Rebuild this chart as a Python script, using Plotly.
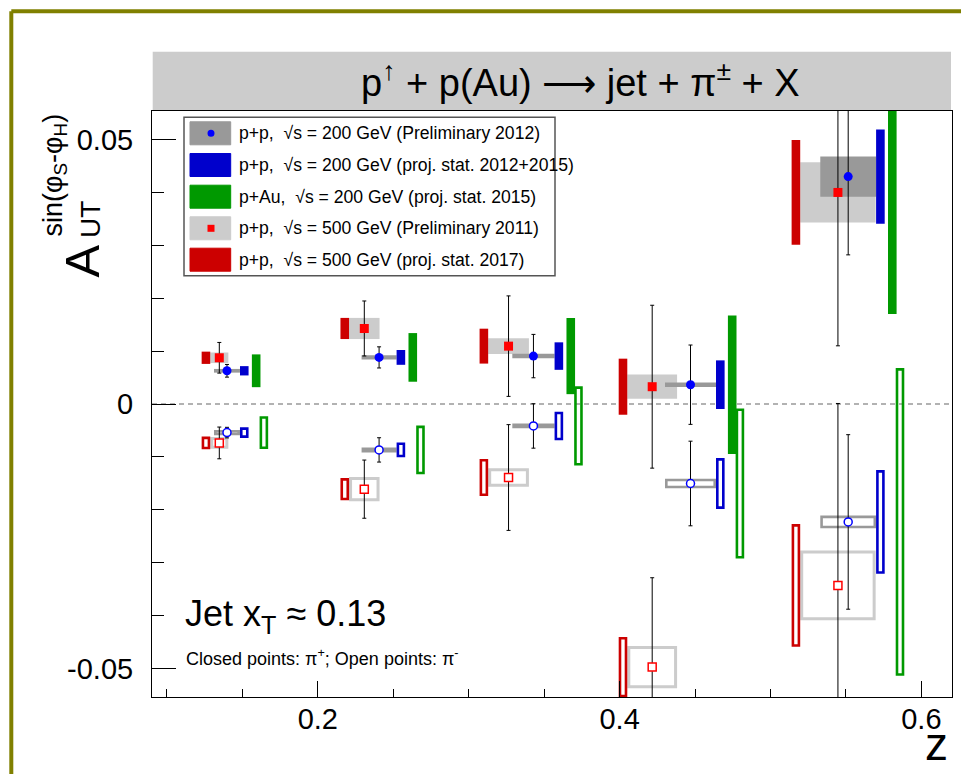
import plotly.graph_objects as go

# ---------------- data ----------------
z_200 = [0.1398, 0.2406, 0.3429, 0.4470, 0.5515]
z_500 = [0.1347, 0.2308, 0.3264, 0.4216, 0.5447]

# p+p 200 GeV preliminary 2012 (pi+ closed, pi- open)
a200_pos = [0.00628, 0.00881, 0.00906, 0.00365, 0.0430]
a200_neg = [-0.00541, -0.00868, -0.00415, -0.01503, -0.0223]
stat200_pos = [0.0012, 0.0020, 0.0041, 0.0075, 0.0148]
stat200_neg = [0.0010, 0.0023, 0.0042, 0.0080, 0.0165]
sys200_pos = [0.00035, 0.0004, 0.00043, 0.00043, 0.0038]
sys200_neg = [0.0005, 0.00047, 0.00044, 0.0009, 0.0012]
zsys200 = [0.0086, 0.0116, 0.0140, 0.0169, 0.0185]

# p+p 500 GeV preliminary 2011
a500_pos = [0.00874, 0.01428, 0.01094, 0.00327, 0.0400]
a500_neg = [-0.00736, -0.0161, -0.0139, -0.04975, -0.0343]
stat500_pos = [0.0029, 0.0052, 0.0095, 0.0154, 0.0290]
stat500_neg = [0.0030, 0.0055, 0.0100, 0.0169, 0.0344]
sys500_pos = [0.0010, 0.0020, 0.0015, 0.0023, 0.0057]
sys500_neg = [0.0011, 0.0023, 0.00176, 0.0040, 0.0066]
zsys500 = [0.0060, 0.0101, 0.0135, 0.0165, 0.0250]

# projected statistical uncertainties
proj200_pos = [0.00088, 0.0014, 0.0026, 0.0046, 0.0089]     # p+p 200 (2012+2015)
proj200_neg = [0.0010, 0.0014, 0.0027, 0.0048, 0.0098]
projAu_pos = [0.0031, 0.0046, 0.0072, 0.0131, 0.0260]       # p+Au 200 (2015)
projAu_neg = [0.0031, 0.0046, 0.0075, 0.0142, 0.0291]
proj500_pos = [0.00116, 0.0020, 0.0033, 0.0053, 0.0099]     # p+p 500 (2017)
proj500_neg = [0.0012, 0.0021, 0.0035, 0.0057, 0.0116]

legend_labels = [
    "p+p,  √s = 200 GeV (Preliminary 2012)",
    "p+p,  √s = 200 GeV (proj. stat. 2012+2015)",
    "p+Au,  √s = 200 GeV (proj. stat. 2015)",
    "p+p,  √s = 500 GeV (Preliminary 2011)",
    "p+p,  √s = 500 GeV (proj. stat. 2017)",
]
x_tickvals = [0.2, 0.4, 0.6]
x_ticktext = ["0.2", "0.4", "0.6"]
y_tickvals = [-0.05, 0.0, 0.05]
y_ticktext = ["-0.05", "0", "0.05"]

# ---------------- styling ----------------
FONT = "Liberation Sans, Arial, sans-serif"
X0, X1 = 0.0901, 0.6203
Y0, Y1 = -0.0554, 0.0554
ML, MR, MT, MB = 152, 9, 111, 77
W, H = 961, 774
PW, PH = W - ML - MR, H - MT - MB
DX = (X1 - X0) / PW   # data per pixel
DY = (Y1 - Y0) / PH

BAR_W = 8.6 * DX
GAP_G = 3.3 * DX
OFF_G = 7.7 * DX

C_DARK = "#999999"
C_LIGHT = "#cccccc"
C_BLUE = "#0000cc"
C_GREEN = "#009900"
C_RED = "#cc0000"

shapes = []


def rect(x0, x1, y0, y1, color, filled, lw=2.6):
    if filled:
        shapes.append(dict(type="rect", xref="x", yref="y", x0=x0, x1=x1, y0=y0, y1=y1,
                           fillcolor=color, line=dict(width=0), layer="below"))
    else:
        ix, iy = lw / 2 * DX, lw / 2 * DY
        shapes.append(dict(type="rect", xref="x", yref="y", x0=x0 + ix, x1=x1 - ix,
                           y0=y0 + iy, y1=y1 - iy, fillcolor="rgba(0,0,0,0)",
                           line=dict(color=color, width=lw), layer="below"))


# zero line
shapes.append(dict(type="line", xref="x", yref="y", x0=X0, x1=X1, y0=0, y1=0,
                   line=dict(color="#999999", width=1.3, dash="5px,4px"), layer="below"))

n = len(z_200)
# systematic boxes (light: 500 GeV, dark: 200 GeV)
for i in range(n):
    z, h = z_500[i], zsys500[i]
    rect(z - h, z + h, a500_pos[i] - sys500_pos[i], a500_pos[i] + sys500_pos[i], C_LIGHT, True)
    rect(z - h, z + h, a500_neg[i] - sys500_neg[i], a500_neg[i] + sys500_neg[i], C_LIGHT, False, 3)
for i in range(n):
    z, h = z_200[i], zsys200[i]
    rect(z - h, z + h, a200_pos[i] - sys200_pos[i], a200_pos[i] + sys200_pos[i], C_DARK, True)
    rect(z - h, z + h, a200_neg[i] - sys200_neg[i], a200_neg[i] + sys200_neg[i], C_DARK, False, 2.6)
# projected statistical bars
for i in range(n):
    xr = z_500[i] - zsys500[i]
    rect(xr - BAR_W, xr, a500_pos[i] - proj500_pos[i], a500_pos[i] + proj500_pos[i], C_RED, True)
    rect(xr - BAR_W, xr, a500_neg[i] - proj500_neg[i], a500_neg[i] + proj500_neg[i], C_RED, False)
    xb = z_200[i] + zsys200[i]
    rect(xb, xb + BAR_W, a200_pos[i] - proj200_pos[i], a200_pos[i] + proj200_pos[i], C_BLUE, True)
    rect(xb, xb + BAR_W, a200_neg[i] - proj200_neg[i], a200_neg[i] + proj200_neg[i], C_BLUE, False)
    xg = xb + BAR_W + GAP_G
    rect(xg, xg + BAR_W, a200_pos[i] - projAu_pos[i], a200_pos[i] + projAu_pos[i], C_GREEN, True)
    rect(xg + OFF_G, xg + OFF_G + BAR_W, a200_neg[i] - projAu_neg[i], a200_neg[i] + projAu_neg[i],
         C_GREEN, False)

fig = go.Figure()


def pts(x, y, err, symbol_color, filled, symbol):
    fig.add_trace(go.Scatter(
        x=x, y=y, mode="markers", showlegend=False, hoverinfo="skip",
        error_y=dict(type="data", array=err, color="black", thickness=1, width=2),
        marker=dict(symbol=symbol, size=9 if filled else 8,
                    color=symbol_color if filled else "white",
                    line=dict(color=symbol_color, width=0 if filled else 1.5)),
    ))


pts(z_500, a500_pos, stat500_pos, "#ff0000", True, "square")
pts(z_500, a500_neg, stat500_neg, "#ff0000", False, "square")
pts(z_200, a200_pos, stat200_pos, "#0000ff", True, "circle")
pts(z_200, a200_neg, stat200_neg, "#0000ff", False, "circle")


def px2paper(px, py):
    return (px - ML) / PW, (H - MB - py) / PH


# title band
bx0, by0 = px2paper(152.7, 110.7)
bx1, by1 = px2paper(951, 51.7)
shapes.append(dict(type="rect", xref="paper", yref="paper", x0=bx0, x1=bx1, y0=by0, y1=by1,
                   fillcolor="#cccccc", line=dict(width=0), layer="below"))
# olive outer frame
ox0, oy0 = px2paper(11.3, 11.3)
ox1, oy1 = px2paper(990, 800)
shapes.append(dict(type="line", xref="paper", yref="paper", x0=ox0, x1=ox1, y0=oy0, y1=oy0,
                   line=dict(color="#808000", width=4)))
shapes.append(dict(type="line", xref="paper", yref="paper", x0=ox0, x1=ox0, y0=oy0, y1=oy1,
                   line=dict(color="#808000", width=4)))

# legend box
lx0, ly0 = px2paper(184, 275.7)
lx1, ly1 = px2paper(555, 117.3)
shapes.append(dict(type="rect", xref="paper", yref="paper", x0=lx0, x1=lx1, y0=ly0, y1=ly1,
                   fillcolor="white", line=dict(color="#555555", width=1.5)))
sw_colors = [C_DARK, C_BLUE, C_GREEN, C_LIGHT, C_RED]
row_y = [133.3, 165.0, 196.7, 228.3, 259.7]
annotations = []
for k, (col, yy) in enumerate(zip(sw_colors, row_y)):
    sx0, sy0 = px2paper(190, yy + 11.5)
    sx1, sy1 = px2paper(230.7, yy - 11.5)
    shapes.append(dict(type="rect", xref="paper", yref="paper", x0=sx0, x1=sx1, y0=sy0, y1=sy1,
                       fillcolor=col, line=dict(color=col, width=1)))
    tx, ty = px2paper(236.5, yy)
    annotations.append(dict(xref="paper", yref="paper", x=tx, y=ty, xanchor="left", yanchor="middle",
                            text=legend_labels[k], showarrow=False,
                            font=dict(family=FONT, size=17.6, color="black")))
# markers inside swatches
mx0, my0 = px2paper(207.5, row_y[0] + 3.5)
mx1, my1 = px2paper(214.5, row_y[0] - 3.5)
shapes.append(dict(type="circle", xref="paper", yref="paper", x0=mx0, x1=mx1, y0=my0, y1=my1,
                   fillcolor="#0000ff", line=dict(width=0)))
mx0, my0 = px2paper(207.5, row_y[3] + 3.5)
mx1, my1 = px2paper(214.5, row_y[3] - 3.5)
shapes.append(dict(type="rect", xref="paper", yref="paper", x0=mx0, x1=mx1, y0=my0, y1=my1,
                   fillcolor="#ff0000", line=dict(width=0)))


def ann(text, px, py, size, xanchor="center", yanchor="middle", angle=0, family=FONT):
    x, y = px2paper(px, py)
    annotations.append(dict(xref="paper", yref="paper", x=x, y=y, xanchor=xanchor, yanchor=yanchor,
                            text=text, showarrow=False, textangle=angle,
                            font=dict(family=family, size=size, color="black")))


ann("p<sup>↑</sup> + p(Au) ⟶ jet + π<sup>±</sup> + X", 580, 80, 38)
ann("A", 81.7, 260.8, 49, angle=-90)
ann("UT", 90, 220, 28, angle=-90)
ann("sin(φ<sub>S</sub>-φ<sub>H</sub>)", 54.5, 175, 27, angle=-90)
ann("Jet x<sub>T</sub> ≈ 0.13", 183, 616, 36, xanchor="left")
ann("Closed points: π<sup>+</sup>; Open points: π<sup>-</sup>", 184, 657, 18, xanchor="left")
ann("z", 950, 744, 46, xanchor="right")

fig.update_layout(
    width=W, height=H, margin=dict(l=ML, r=MR, t=MT, b=MB),
    paper_bgcolor="white", plot_bgcolor="white",
    shapes=shapes, annotations=annotations, showlegend=False,
    xaxis=dict(range=[X0, X1], tickmode="array", tickvals=x_tickvals, ticktext=x_ticktext,
               ticks="inside", ticklen=16, tickwidth=1, tickcolor="black",
               minor=dict(ticks="inside", ticklen=8, tickwidth=1, tickcolor="black", dtick=0.05, tick0=0),
               showline=True, linecolor="black", linewidth=1, mirror=True, showgrid=False,
               zeroline=False, tickfont=dict(family=FONT, size=29, color="black"),
               ticklabelstandoff=-4),
    yaxis=dict(range=[Y0, Y1], tickmode="array", tickvals=y_tickvals, ticktext=y_ticktext,
               ticks="inside", ticklen=24, tickwidth=1, tickcolor="black",
               minor=dict(ticks="inside", ticklen=11.5, tickwidth=1, tickcolor="black", dtick=0.01, tick0=0),
               showline=True, linecolor="black", linewidth=1, mirror=True, showgrid=False,
               zeroline=False, tickfont=dict(family=FONT, size=29, color="black"),
               ticklabelstandoff=12),
)

fig.write_html("out.html")
